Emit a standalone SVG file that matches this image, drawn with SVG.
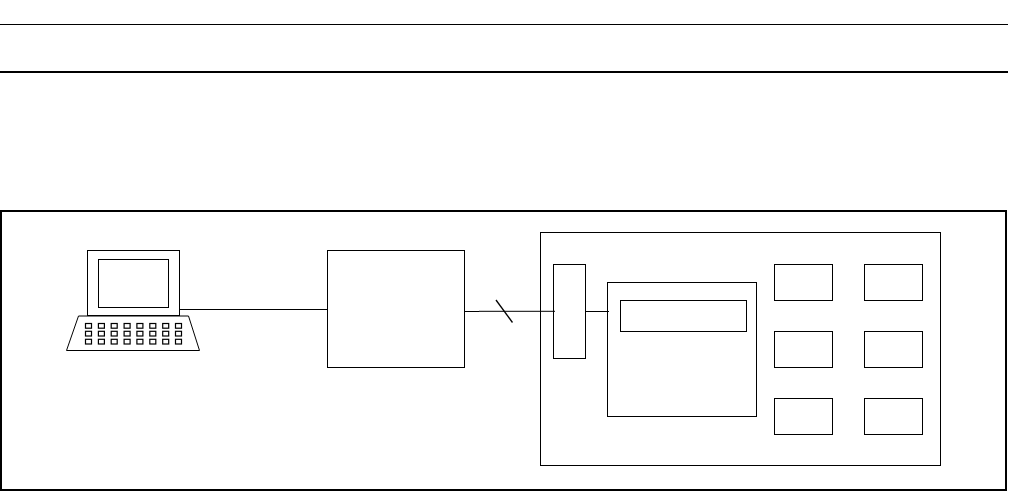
<svg xmlns="http://www.w3.org/2000/svg" width="1009" height="491" viewBox="0 0 1009 491">
<style>
.b{fill:none;stroke:#000;stroke-width:1}
.k{fill:none;stroke:#000;stroke-width:1.2}
</style>
<defs>
<g id="key-row">
<rect class="k" x="85.5" y="0.5" width="6" height="4.7"/><rect class="k" x="98.4" y="0.5" width="6" height="4.7"/><rect class="k" x="111.2" y="0.5" width="6" height="4.7"/><rect class="k" x="124.1" y="0.5" width="6" height="4.7"/><rect class="k" x="136.9" y="0.5" width="6" height="4.7"/><rect class="k" x="149.8" y="0.5" width="6" height="4.7"/><rect class="k" x="162.7" y="0.5" width="6" height="4.7"/><rect class="k" x="175.5" y="0.5" width="6" height="4.7"/>
</g>
</defs>
<rect width="1009" height="491" fill="#fff"/>
<g id="rules">
<line x1="0" y1="24.5" x2="1008" y2="24.5" stroke="#000" stroke-width="1"/>
<line x1="0" y1="72" x2="1008" y2="72" stroke="#000" stroke-width="2"/>
</g>
<g id="frame"><rect x="1" y="211" width="1005" height="279" fill="none" stroke="#000" stroke-width="2"/></g>
<g id="connectors">
<line class="b" x1="180" y1="309.5" x2="328" y2="309.5"/>
<path class="b" d="M465 311.5H479V311.3H555"/>
<line class="b" x1="586" y1="311.5" x2="609" y2="311.5"/>
<line x1="496" y1="300" x2="512.5" y2="322.5" stroke="#000" stroke-width="1.3"/>
</g>
<g id="terminal">
<rect class="b" x="87.5" y="250.5" width="92" height="65"/>
<rect class="b" x="98.5" y="259.5" width="70" height="48"/>
<path class="b" d="M78.5 316H188.5L199.5 350.5H66.5Z"/>
<g id="keys">
<use href="#key-row" y="323"/>
<use href="#key-row" y="330.8"/>
<use href="#key-row" y="338.8"/>
</g>
</g>
<g id="middle-box"><rect class="b" x="327.5" y="250.5" width="137" height="117"/></g>
<g id="system"><rect class="b" x="540.5" y="232.5" width="400" height="233"/></g>
<g id="connector-block"><rect class="b" x="553.5" y="264.5" width="32" height="94"/></g>
<g id="module"><rect class="b" x="607.5" y="282.5" width="149" height="134"/></g>
<g id="module-inner"><rect class="b" x="620.5" y="300.5" width="126" height="31"/></g>
<g id="unit-1"><rect class="b" x="774.5" y="264.5" width="58" height="36"/></g>
<g id="unit-2"><rect class="b" x="864.5" y="264.5" width="58" height="36"/></g>
<g id="unit-3"><rect class="b" x="774.5" y="331.5" width="58" height="36"/></g>
<g id="unit-4"><rect class="b" x="864.5" y="331.5" width="58" height="36"/></g>
<g id="unit-5"><rect class="b" x="774.5" y="398.5" width="58" height="36"/></g>
<g id="unit-6"><rect class="b" x="864.5" y="398.5" width="58" height="36"/></g>
</svg>
